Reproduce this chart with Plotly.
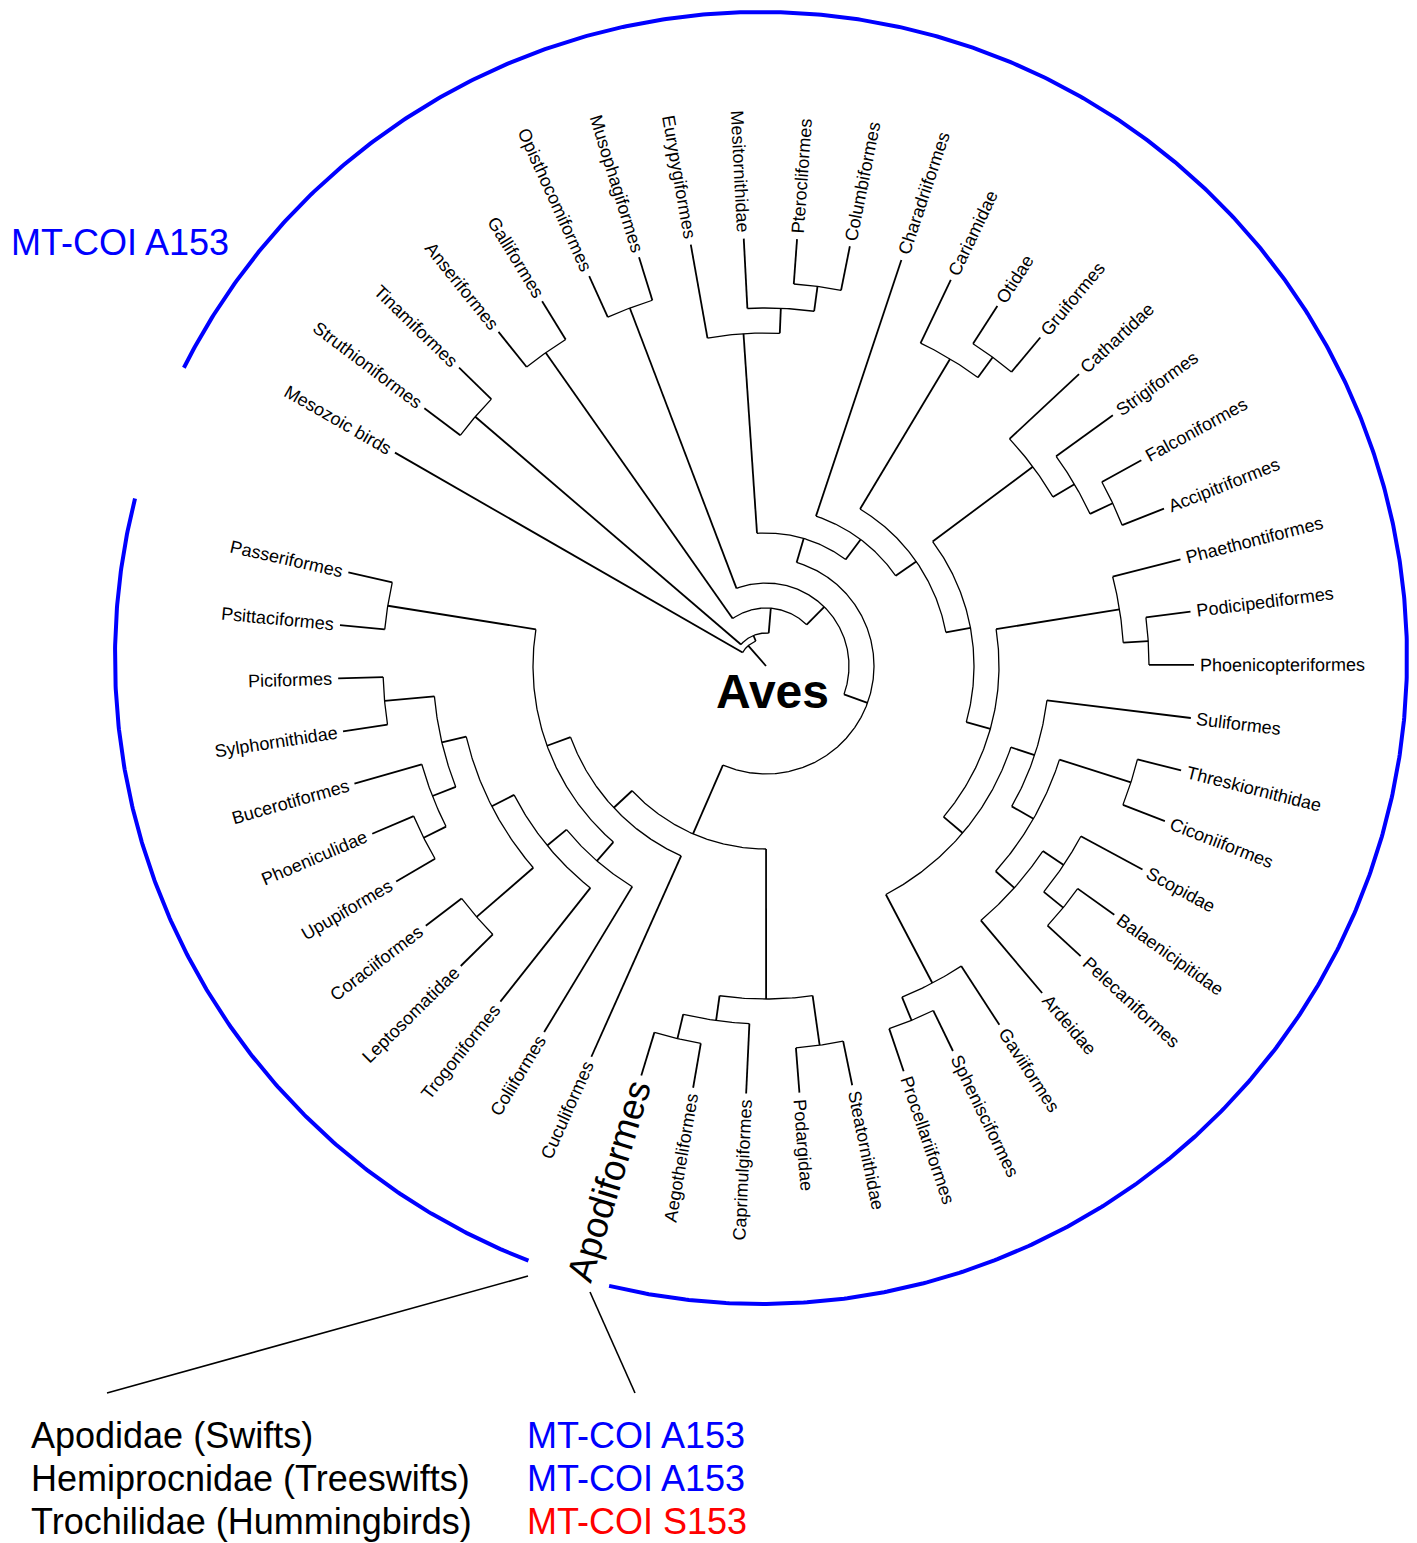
import math
import plotly.graph_objects as go

# ---------------------------------------------------------------
# Taxa, listed clockwise starting from the outgroup
# ---------------------------------------------------------------
taxa = [
    "Mesozoic birds", "Struthioniformes", "Tinamiformes", "Anseriformes",
    "Galliformes", "Opisthocomiformes", "Musophagiformes", "Eurypygiformes",
    "Mesitornithidae", "Pterocliformes", "Columbiformes", "Charadriiformes",
    "Cariamidae", "Otidae", "Gruiformes", "Cathartidae", "Strigiformes",
    "Falconiformes", "Accipitriformes", "Phaethontiformes", "Podicipediformes",
    "Phoenicopteriformes", "Suliformes", "Threskiornithidae", "Ciconiiformes",
    "Scopidae", "Balaenicipitidae", "Pelecaniformes", "Ardeidae", "Gaviiformes",
    "Sphenisciformes", "Procellariiformes", "Steatornithidae", "Podargidae",
    "Caprimulgiformes", "Aegotheliformes", "Apodiformes", "Cuculiformes",
    "Coliiformes", "Trogoniformes", "Leptosomatidae", "Coraciiformes",
    "Upupiformes", "Phoeniculidae", "Bucerotiformes", "Sylphornithidae",
    "Piciformes", "Psittaciformes", "Passeriformes",
]
highlighted_taxon = "Apodiformes"

# ---------------------------------------------------------------
# Topology: nested pairs of taxon indices
# ---------------------------------------------------------------
palaeognathae = [1, 2]
galloanserae = [3, 4]
opistho_muso = [5, 6]
eurypyga_clade = [7, [8, [9, 10]]]
gruiform_clade = [12, [13, 14]]
raptor_clade = [15, [16, [17, 18]]]
mirandornithes = [19, [20, 21]]
pelecani = [22, [[23, 24], [[25, [26, 27]], 28]]]
austrodyptornithes = [29, [30, 31]]
waterbirds = [pelecani, austrodyptornithes]
aquatic_clade = [mirandornithes, waterbirds]
raptor_aquatic = [raptor_clade, aquatic_clade]
gruae_plus = [gruiform_clade, raptor_aquatic]
charadrii_plus = [11, gruae_plus]
northern_half = [eurypyga_clade, charadrii_plus]
strisores = [[32, 33], [34, [35, 36]]]
picocoraciae = [[[42, 43], 44], [45, 46]]
coraciae = [[40, 41], picocoraciae]
trogon_plus = [39, coraciae]
colii_plus = [38, trogon_plus]
landbirds = [colii_plus, [47, 48]]
cuculi_plus = [37, landbirds]
southern_half = [strisores, cuculi_plus]
neoaves_core = [northern_half, southern_half]
neoaves = [opistho_muso, neoaves_core]
neognathae = [galloanserae, neoaves]
neornithes = [palaeognathae, neognathae]
aves = [0, neornithes]

# ---------------------------------------------------------------
# Radial layout settings (pixel units, origin at the tree root)
# ---------------------------------------------------------------
START_ANGLE = 150.1      # degrees, counter-clockwise from east
ANGLE_STEP = 7.14
TIP_R = 428
FIRST_NODE_R = 383
NODE_STEP_R = 25
ROOT_R = 27
LABEL_R = 434
LABEL_SIZE = 18
BIG_LABEL_SIZE = 37

ring_center = (-5, 8)
ring_radius = 646
ring_spans = [(-103.6, 153.3), (165.7, 248.9)]

legend_species = ["Apodidae (Swifts)", "Hemiprocnidae (Treeswifts)",
                  "Trochilidae (Hummingbirds)"]
legend_variant = ["MT-COI A153", "MT-COI A153", "MT-COI S153"]
legend_colors = ["#0000ff", "#0000ff", "#ff0000"]

FONT = "Liberation Sans, Arial, Helvetica, sans-serif"

# Arial / Liberation Sans advance widths (1/1000 em)
CHAR_W = {
    " ": 278, "a": 556, "b": 556, "c": 500, "d": 556, "e": 556, "f": 278,
    "g": 556, "h": 556, "i": 222, "j": 222, "k": 500, "l": 222, "m": 833,
    "n": 556, "o": 556, "p": 556, "q": 556, "r": 333, "s": 500, "t": 278,
    "u": 556, "v": 500, "w": 722, "x": 500, "y": 500, "z": 500,
    "A": 667, "B": 667, "C": 722, "D": 722, "E": 667, "F": 611, "G": 778,
    "H": 722, "I": 278, "J": 500, "K": 667, "L": 556, "M": 833, "N": 722,
    "O": 778, "P": 667, "Q": 778, "R": 722, "S": 667, "T": 611, "U": 722,
    "V": 667, "W": 944, "X": 667, "Y": 667, "Z": 611,
}


def text_width(s, size):
    return sum(CHAR_W.get(ch, 556) for ch in s) * size / 1000.0


def polar(r, deg):
    a = math.radians(deg)
    return r * math.cos(a), r * math.sin(a)


# ---------------------------------------------------------------
# Compute node positions
# ---------------------------------------------------------------
internal_nodes = []   # [radius, angle, [(child_angle, child_radius), ...]]


def layout(node):
    if isinstance(node, int):
        return START_ANGLE - node * ANGLE_STEP, 0, TIP_R
    kids = [layout(c) for c in node]
    ang = sum(k[0] for k in kids) / len(kids)
    height = 1 + max(k[1] for k in kids)
    r = FIRST_NODE_R - NODE_STEP_R * (height - 1)
    entry = [r, ang, [(k[0], k[2]) for k in kids]]
    internal_nodes.append(entry)
    return ang, height, entry


def resolve(node_info):
    return node_info[0] if isinstance(node_info, list) else node_info


root_angle, _, root_entry = layout(aves)
root_entry[0] = ROOT_R

# ---------------------------------------------------------------
# Branch geometry
# ---------------------------------------------------------------
arc_x, arc_y, rad_x, rad_y = [], [], [], []
for r, ang, kids in internal_nodes:
    angs = [k[0] for k in kids]
    a0, a1 = min(angs), max(angs)
    n = max(2, int((a1 - a0) / 0.4) + 1)
    for j in range(n + 1):
        x, y = polar(r, a0 + (a1 - a0) * j / n)
        arc_x.append(x)
        arc_y.append(y)
    arc_x.append(None)
    arc_y.append(None)
    for k_ang, k_r in kids:
        kr = resolve(k_r)
        x0, y0 = polar(r, k_ang)
        x1, y1 = polar(kr, k_ang)
        rad_x += [x0, x1, None]
        rad_y += [y0, y1, None]

# stem of the root
sx, sy = polar(ROOT_R, root_angle)
rad_x += [0, sx, None]
rad_y += [0, sy, None]

fig = go.Figure()
fig.add_trace(go.Scatter(x=arc_x, y=arc_y, mode="lines",
                         line=dict(color="black", width=1.3),
                         hoverinfo="skip"))
fig.add_trace(go.Scatter(x=rad_x, y=rad_y, mode="lines",
                         line=dict(color="black", width=1.8),
                         hoverinfo="skip"))

# blue ring marking the MT-COI A153 state
for a0, a1 in ring_spans:
    n = int((a1 - a0) / 0.3) + 1
    xs, ys = [], []
    for j in range(n + 1):
        x, y = polar(ring_radius, a0 + (a1 - a0) * j / n)
        xs.append(x + ring_center[0])
        ys.append(y + ring_center[1])
    fig.add_trace(go.Scatter(x=xs, y=ys, mode="lines",
                             line=dict(color="#0000ff", width=4),
                             hoverinfo="skip"))

# ---------------------------------------------------------------
# Taxon labels, rotated along their branches
# ---------------------------------------------------------------
annotations = []
for i, name in enumerate(taxa):
    ang = START_ANGLE - i * ANGLE_STEP
    norm = (ang + 180) % 360 - 180
    size = BIG_LABEL_SIZE if name == highlighted_taxon else LABEL_SIZE
    w = text_width(name, size)
    cx, cy = polar(LABEL_R + w / 2, ang)
    if -90 <= norm <= 90:
        rot = -norm
    else:
        rot = 180 - norm
        rot = (rot + 180) % 360 - 180
    annotations.append(dict(
        x=cx, y=cy, xref="x", yref="y", text=name, showarrow=False,
        textangle=rot, xanchor="center", yanchor="middle",
        font=dict(family=FONT, size=size, color="black")))

annotations.append(dict(
    x=6, y=-25, xref="x", yref="y", text="<b>Aves</b>", showarrow=False,
    xanchor="center", yanchor="middle",
    font=dict(family=FONT, size=48, color="black")))

annotations.append(dict(
    x=-757, y=423.5, xref="x", yref="y", text="MT-COI A153", showarrow=False,
    xanchor="left", yanchor="middle",
    font=dict(family=FONT, size=36, color="#0000ff")))

legend_y = [-769, -812, -855]
for name, variant, col, y in zip(legend_species, legend_variant,
                                 legend_colors, legend_y):
    annotations.append(dict(
        x=-737, y=y, xref="x", yref="y", text=name, showarrow=False,
        xanchor="left", yanchor="middle",
        font=dict(family=FONT, size=36, color="black")))
    annotations.append(dict(
        x=-241, y=y, xref="x", yref="y", text=variant, showarrow=False,
        xanchor="left", yanchor="middle",
        font=dict(family=FONT, size=36, color=col)))

# pointer lines from the Apodiformes gap down to the family list
shapes = [
    dict(type="line", xref="x", yref="y", x0=-238, y0=-610, x1=-659, y1=-727,
         line=dict(color="black", width=1.6)),
    dict(type="line", xref="x", yref="y", x0=-176, y0=-626, x1=-131, y1=-727,
         line=dict(color="black", width=1.6)),
]

fig.update_layout(
    width=1417, height=1543, autosize=False,
    margin=dict(l=0, r=0, t=0, b=0, pad=0),
    paper_bgcolor="white", plot_bgcolor="white",
    showlegend=False,
    xaxis=dict(range=[-766, 651], visible=False, fixedrange=True),
    yaxis=dict(range=[-877, 666], visible=False, fixedrange=True),
    annotations=annotations, shapes=shapes,
)

fig.write_html("out.html")
